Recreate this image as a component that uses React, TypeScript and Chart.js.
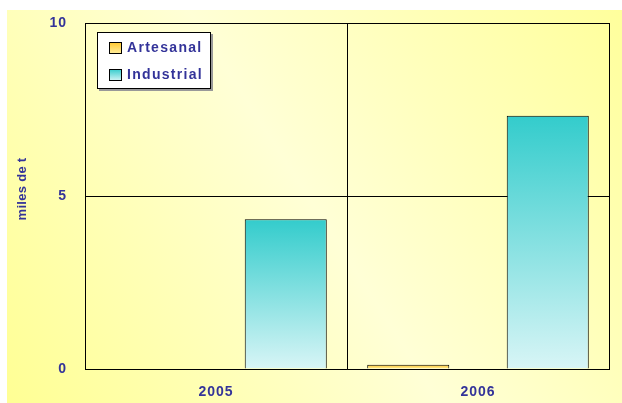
import React, { useEffect, useRef } from "react";
import { Chart, registerables } from "chart.js";

Chart.register(...registerables);

const categories = ["2005", "2006"];
const seriesNames = ["Artesanal", "Industrial"];
const artesanal = [0, 0.12];
const industrial = [4.33, 7.32];
const yTicks = [0, 5, 10];
const yTitle = "miles de t";

const TEXT = "#333399";
const FONT = "'Liberation Sans', Arial, sans-serif";

const artTop = "#FFC62E";
const artBottom = "#FFEFA0";
const indTop = "#33CCCC";
const indBottom = "#D8F5F6";

function barGradient(top: string, bottom: string) {
  return (ctx: any) => {
    const chart = ctx.chart;
    if (!chart.chartArea || ctx.raw === undefined) return top;
    const y = chart.scales.y;
    const p0 = y.getPixelForValue(ctx.raw);
    const p1 = y.getPixelForValue(0);
    const g = chart.ctx.createLinearGradient(0, p0, 0, Math.max(p1, p0 + 1));
    g.addColorStop(0, top);
    g.addColorStop(1, bottom);
    return g;
  };
}

const bgPlugin = {
  id: "bgPlugin",
  beforeDraw(chart: any) {
    const c = chart.ctx;
    const w = chart.width;
    const h = chart.height;
    c.save();
    const g = c.createLinearGradient(7, h, w, 10);
    g.addColorStop(0, "#FFFF94");
    g.addColorStop(0.5, "#FFFFD6");
    g.addColorStop(1, "#FFFF9C");
    c.fillStyle = g;
    c.fillRect(7, 10, w - 7, h - 10);
    c.restore();
    c.letterSpacing = "1px";
  },
  afterDraw(chart: any) {
    const c = chart.ctx;
    const area = chart.chartArea;
    c.save();
    // y axis title
    c.save();
    c.translate(22, (area.top + area.bottom) / 2 - 7);
    c.rotate(-Math.PI / 2);
    c.font = "bold 13px " + FONT;
    c.letterSpacing = "0.3px";
    c.fillStyle = TEXT;
    c.textAlign = "center";
    c.textBaseline = "middle";
    c.fillText(yTitle, 0, 0);
    c.restore();
    // legend
    c.letterSpacing = "0px";
    c.fillStyle = "#999999";
    c.fillRect(99, 34, 114, 57);
    c.fillStyle = "#FFFFFF";
    c.fillRect(97, 32, 114, 57);
    c.strokeStyle = "#000000";
    c.lineWidth = 1;
    c.strokeRect(97.5, 32.5, 113, 56);
    const items = [
      { name: seriesNames[0], top: artTop, bottom: artBottom, y: 42 },
      { name: seriesNames[1], top: indTop, bottom: indBottom, y: 69 },
    ];
    items.forEach((it) => {
      const g = c.createLinearGradient(0, it.y, 0, it.y + 12);
      g.addColorStop(0, it.top);
      g.addColorStop(1, it.bottom);
      c.fillStyle = g;
      c.fillRect(109, it.y, 13, 12);
      c.strokeStyle = "#000000";
      c.strokeRect(109.5, it.y + 0.5, 12, 11);
      c.fillStyle = TEXT;
      c.font = "bold 14px " + FONT;
      c.letterSpacing = "1.3px";
      c.textBaseline = "middle";
      c.textAlign = "left";
      c.fillText(it.name, 127, it.y + 6.5);
    });
    c.restore();
  },
};

export default function App() {
  const ref = useRef<HTMLCanvasElement | null>(null);

  useEffect(() => {
    document.body.style.margin = "0";
    if (!ref.current) return;
    const chart = new Chart(ref.current, {
      type: "bar",
      data: {
        labels: categories,
        datasets: [
          {
            label: seriesNames[0],
            data: artesanal,
            backgroundColor: barGradient(artTop, artBottom),
            borderColor: "#000000",
            borderWidth: 1,
            categoryPercentage: 1.065,
            barPercentage: 0.588,
          },
          {
            label: seriesNames[1],
            data: industrial,
            backgroundColor: barGradient(indTop, indBottom),
            borderColor: "#000000",
            borderWidth: 1,
            categoryPercentage: 1.065,
            barPercentage: 0.588,
          },
        ],
      },
      options: {
        responsive: false,
        animation: false,
        layout: { padding: { left: 0, top: 23, right: 13, bottom: 0 } },
        plugins: {
          legend: { display: false },
          tooltip: { enabled: false },
        },
        scales: {
          x: {
            grid: { color: "#000000", lineWidth: 1, drawTicks: false, offset: true },
            border: { display: true, color: "#000000", width: 1 },
            ticks: {
              color: TEXT,
              font: { family: FONT, size: 14, weight: "bold" },
              padding: 15,
            },
            afterFit(scale: any) {
              scale.height = 34;
              scale.paddingLeft = 0;
              scale.paddingRight = 0;
            },
          },
          y: {
            min: 0,
            max: 10,
            afterBuildTicks(scale: any) {
              scale.ticks = yTicks.map((v) => ({ value: v }));
            },
            grid: { color: "#000000", lineWidth: 1, drawTicks: false },
            border: { display: true, color: "#000000", width: 1 },
            ticks: {
              color: TEXT,
              font: { family: FONT, size: 14, weight: "bold" },
              padding: 18,
            },
            afterFit(scale: any) {
              scale.width = 85;
              scale.paddingTop = 0;
              scale.paddingBottom = 0;
            },
          },
        },
      },
      plugins: [bgPlugin],
    });
    return () => chart.destroy();
  }, []);

  return (
    <div style={{ position: "absolute", left: 0, top: 0, width: 622, height: 403 }}>
      <canvas ref={ref} width={622} height={403} style={{ display: "block" }} />
    </div>
  );
}
